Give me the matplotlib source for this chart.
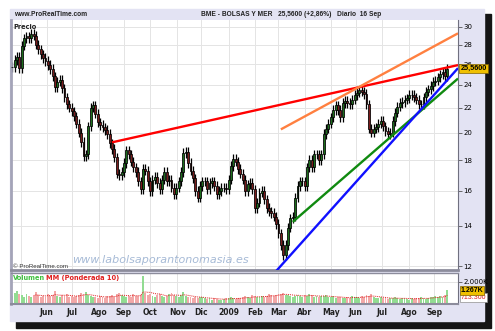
import numpy as np
import pandas as pd
import matplotlib
matplotlib.use("Agg")
import matplotlib.pyplot as plt
from matplotlib.patches import Rectangle
from matplotlib.ticker import NullLocator, FixedLocator, FixedFormatter

# BME - Bolsas y Mercados, one bar every 2nd trading day, 22 Apr 2008 -> 16 Sep 2009
start_day = '2008-04-22'
closes = [
    25.7, 26.4, 26.7, 25.6, 27.9, 28.7, 28.9, 28.7, 29.2, 29.0,
    28.0, 27.5, 27.0, 26.6, 26.3, 25.9, 25.5, 24.8, 23.8, 24.3,
    24.5, 23.7, 22.9, 22.3, 22.0, 21.7, 21.3, 20.7, 20.0, 19.3,
    18.3, 18.4, 20.5, 22.0, 22.2, 21.5, 20.8, 20.6, 20.4, 20.2,
    19.9, 19.2, 18.8, 18.2, 17.1, 17.0, 17.2, 17.8, 18.7, 18.4,
    17.9, 17.5, 17.2, 16.6, 16.1, 17.4, 17.3, 16.6, 16.0, 16.7,
    16.9, 16.5, 16.1, 16.7, 17.2, 16.6, 16.7, 16.2, 15.8, 16.2,
    16.6, 17.2, 18.5, 18.6, 17.8, 17.3, 16.8, 16.0, 15.6, 16.3,
    16.6, 16.6, 16.1, 16.5, 16.6, 16.3, 15.8, 16.0, 16.2, 16.2,
    16.1, 16.7, 17.6, 18.1, 17.9, 17.4, 17.1, 16.7, 16.0, 16.4,
    16.5, 16.1, 15.0, 15.3, 15.9, 16.0, 15.5, 15.0, 14.8, 14.7,
    14.5, 14.1, 13.6, 13.0, 12.5, 13.0, 13.9, 14.4, 14.5, 15.6,
    16.3, 16.6, 16.6, 16.3, 17.5, 18.0, 17.5, 18.4, 18.4, 18.0,
    18.4, 19.9, 20.3, 20.7, 21.2, 21.8, 22.2, 21.8, 21.2, 22.4,
    22.6, 22.4, 22.3, 22.7, 23.1, 23.3, 23.5, 23.4, 23.2, 22.3,
    20.3, 20.0, 20.3, 20.4, 20.7, 20.9, 20.5, 20.1, 19.9, 20.0,
    20.9, 21.6, 22.1, 22.4, 22.5, 22.7, 22.8, 23.1, 23.1, 22.9,
    22.7, 22.3, 22.3, 22.9, 23.4, 23.6, 23.9, 24.3, 24.4, 24.7,
    25.0, 25.2, 24.85, 25.56,
]
# volume in thousands of shares
volumes = [
    700, 1000, 1150, 900, 800, 650, 900, 750, 600, 700,
    1100, 800, 650, 700, 600, 900, 750, 850, 1200, 700,
    650, 800, 700, 900, 650, 750, 600, 700, 850, 1000,
    900, 1050, 800, 700, 600, 650, 500, 700, 600, 550,
    750, 700, 800, 650, 900, 1000, 850, 700, 600, 750,
    650, 900, 700, 750, 800, 2550, 1000, 800, 900, 700,
    650, 800, 950, 700, 600, 750, 900, 1000, 850, 700,
    650, 800, 1100, 700, 600, 650, 550, 600, 500, 650,
    600, 500, 450, 550, 400, 500, 450, 350, 400, 450,
    500, 550, 600, 500, 450, 550, 500, 600, 700, 650,
    550, 800, 700, 650, 600, 750, 650, 700, 900, 800,
    750, 850, 950, 900, 1000, 850, 800, 700, 650, 750,
    850, 700, 650, 800, 750, 900, 800, 650, 700, 600,
    750, 700, 800, 650, 600, 700, 550, 650, 600, 500,
    550, 600, 500, 700, 650, 600, 550, 750, 650, 800,
    700, 900, 650, 550, 500, 600, 550, 500, 450, 500,
    550, 600, 500, 450, 500, 550, 450, 400, 500, 450,
    500, 550, 600, 500, 450, 550, 600, 650, 700, 600,
    750, 650, 800, 1267,
]
month_labels = ['Jun', 'Jul', 'Ago', 'Sep', 'Oct', 'Nov', 'Dic', '2009',
                'Feb', 'Mar', 'Abr', 'May', 'Jun', 'Jul', 'Ago', 'Sep']
price_ticks = [12, 14, 16, 18, 20, 22, 24, 26, 28, 30]
last_price = 25.56
vol_ma_last = 713.3

# hand-drawn trend lines: (start date, start price, end date, end price)
trend_lines = {
    'red':     ('2008-08-18', 19.27, '2009-09-29', 25.9),
    '#ff8040': ('2009-03-04', 20.25, '2009-09-29', 29.25),
    '#108a10': ('2009-03-18', 14.21, '2009-09-29', 24.6),
    '#1010ff': ('2009-02-25', 11.71, '2009-09-29', 25.6),
}

W, H = 495, 331
narrow = ['Liberation Sans Narrow', 'Liberation Sans', 'DejaVu Sans']
days = pd.bdate_range(start_day, periods=380)
x = np.arange(len(closes)) * 2
opens = np.r_[closes[0], closes[:-1]]
closes = np.array(closes)
up = closes >= opens

month_starts = [i for i in range(1, 376) if days[i].month != days[i - 1].month]

def fx(px):
    return px / W

def fy(py):
    return 1 - py / H

fig = plt.figure(figsize=(W / 100, H / 100), dpi=100)
fig.patches.append(Rectangle((fx(16), fy(328)), (491 - 16) / W, (328 - 14) / H,
                             transform=fig.transFigure, color='#151515', zorder=-10))
fig.patches.append(Rectangle((fx(10), fy(321)), (484 - 10) / W, (321 - 9) / H,
                             transform=fig.transFigure, color='#e3e3f3', zorder=-9))

ax = fig.add_axes([fx(11), fy(270), (458 - 11) / W, (270 - 20) / H])
vax = fig.add_axes([fx(11), fy(304), (458 - 11) / W, (304 - 273) / H])

for a in (ax, vax):
    a.set_xlim(-1, 375)
    a.set_facecolor('white')
    a.xaxis.set_major_locator(FixedLocator(month_starts))
    a.grid(True, color='#e4e4e4', linewidth=0.7)
    a.set_axisbelow(True)
    a.yaxis.tick_right()
    a.tick_params(axis='x', length=0)
    a.tick_params(axis='y', length=3, width=0.6, color='#555555', labelsize=5, pad=1)
    a.spines['left'].set_color('#a4a4b8')
    a.spines['left'].set_linewidth(2)
    a.spines['right'].set_color('#707080')
    a.spines['right'].set_linewidth(0.8)
    a.spines['top'].set_visible(False)
    a.spines['bottom'].set_color('#8c8c9c')
    a.spines['bottom'].set_linewidth(1.5)
ax.spines['bottom'].set_linewidth(2)
vax.spines['top'].set_visible(True)
vax.spines['top'].set_color('#8c8c9c')
vax.spines['top'].set_linewidth(1)

# price panel
ax.set_yscale('log')
ax.set_ylim(11.82, 30.78)
ax.yaxis.set_major_locator(FixedLocator(price_ticks))
ax.yaxis.set_major_formatter(FixedFormatter([str(t) for t in price_ticks]))
ax.yaxis.set_minor_locator(NullLocator())
ax.set_xticklabels([])

# candles: body from previous close to close, thin wick a bit beyond the body
wick = 0.018
body_lo = np.minimum(opens, closes)
body_hi = np.maximum(opens, closes)
ax.vlines(x, body_lo * (1 - wick), body_hi * (1 + wick), color='black', linewidth=0.9, zorder=2)
ax.bar(x, body_hi - body_lo, bottom=body_lo, width=1.6,
       color=np.where(up, '#1c6e1c', '#7a1c1c'), edgecolor='black', linewidth=0.55, zorder=3)

for color, (d0, p0, d1, p1) in trend_lines.items():
    i0 = days.get_loc(pd.Timestamp(d0))
    i1 = days.get_loc(pd.Timestamp(d1))
    ax.plot([i0, i1], [p0, p1], color=color, linewidth=1.7, zorder=4, solid_capstyle='butt')

tag_x = 1.006
ax.text(tag_x, last_price, '25,5600', transform=ax.get_yaxis_transform(), fontsize=5.2,
        family=narrow, fontweight='bold', va='center', ha='left', clip_on=False, zorder=6,
        bbox=dict(boxstyle='square,pad=0.2', fc='#f0c000', ec='#806000', lw=0.5))

ax.text(0.005, 0.985, 'Precio', transform=ax.transAxes, fontsize=4.8,
        fontweight='bold', va='top', ha='left', color='#222222')
ax.text(0.005, 0.005, '\u00a9 ProRealTime.com', transform=ax.transAxes, fontsize=4.4,
        family=narrow, va='bottom', ha='left', color='#333333')
ax.text(0.334, 0.02, 'www.labolsaporantonomasia.es', transform=ax.transAxes, fontsize=8,
        style='italic', va='bottom', ha='center', color='#a6bad6')

# volume panel
vax.set_ylim(0, 2818)
vax.yaxis.set_major_locator(FixedLocator([2000]))
vax.yaxis.set_major_formatter(FixedFormatter(['2.000K']))
vax.bar(x, volumes, width=1.6, color=np.where(up, '#92dc92', '#f2a8a8'), linewidth=0, zorder=2)
w = np.arange(1, 11)
wma = np.convolve(volumes, w[::-1], mode='valid') / w.sum()
vax.plot(x[9:], wma, color='#e02020', linestyle=(0, (1, 1)), linewidth=0.7, zorder=3)
vax.xaxis.set_major_formatter(FixedFormatter(['', ] + month_labels))
vax.tick_params(axis='x', labelsize=5.5, pad=3, labelcolor='#222222')
for lbl in vax.get_xticklabels():
    lbl.set_fontweight('bold')

vax.text(0.005, 0.92, 'Volumen', transform=vax.transAxes, fontsize=4.8,
         fontweight='bold', va='top', color='#40c040')
vax.text(0.078, 0.92, 'MM (Ponderada 10)', transform=vax.transAxes, fontsize=4.8,
         fontweight='bold', va='top', color='#e02020')
vax.text(tag_x, volumes[-1], '1.267K', transform=vax.get_yaxis_transform(), fontsize=5.0,
         family=narrow, fontweight='bold', va='center', ha='left', clip_on=False, zorder=6,
         bbox=dict(boxstyle='square,pad=0.15', fc='#f0c000', ec='#806000', lw=0.5))
vax.text(tag_x, vol_ma_last - 150, '713.300', transform=vax.get_yaxis_transform(), fontsize=5.0,
         family=narrow, va='center', ha='left', color='#e02020', clip_on=False, zorder=5,
         bbox=dict(boxstyle='square,pad=0.15', fc='white', ec='#909090', lw=0.5))

# header strip
fig.text(fx(14), fy(14.5), 'www.ProRealTime.com', fontsize=4.8, fontweight='bold',
         family=narrow, va='center', ha='left', color='#222222')
fig.text(fx(201), fy(14.5), 'BME - BOLSAS Y MER   25,5600 (+2,86%)   Diario  16 Sep',
         fontsize=4.8, fontweight='bold', family=narrow, va='center', ha='left', color='#222222')

fig.savefig('out.png', dpi=100)
